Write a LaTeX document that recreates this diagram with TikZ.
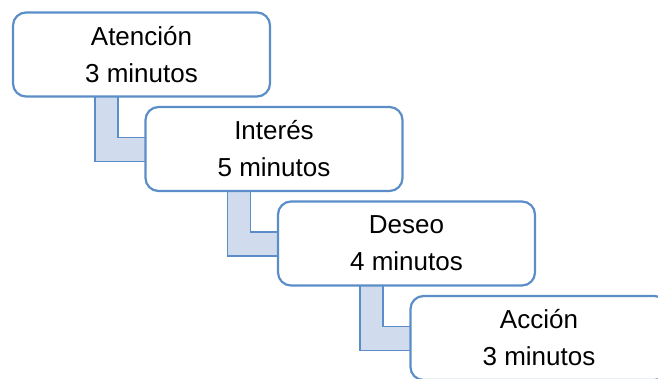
\documentclass[tikz,border=0pt]{standalone}
\usepackage{fontspec}
\setmainfont{Liberation Sans}
\usetikzlibrary{calc}
\definecolor{stepline}{HTML}{5B8EC8}
\definecolor{stepfill}{HTML}{D0DCEE}
\tikzset{
  stepbox/.style={draw=stepline, line width=2.2pt, fill=white, rounded corners=13pt,
    minimum width=257pt, minimum height=84pt, inner sep=0pt, align=center,
    font=\fontsize{26}{37}\selectfont},
  elbow/.style={draw=stepline, line width=1.8pt, fill=stepfill, line join=miter}
}
\begin{document}
\begin{tikzpicture}[x=1pt, y=-1pt]
\useasboundingbox (0,0) rectangle (658,378);
\clip (0,0) rectangle (658,378);
% centres of the four steps
\path
  (141.5,54.5) coordinate (c1)
  (274,149)    coordinate (c2)
  (406.5,243.5) coordinate (c3)
  (539,338)    coordinate (c4);
% elbow connectors between consecutive steps, drawn below the boxes
\foreach \i/\j in {1/2,2/3,3/4}{
  \draw[elbow]
    ($(c\i)+(-46.5,42)$) -- ($(c\i)+(-46.5,107)$) -- ($(c\j)+(-128.5,12.5)$)
    -- ($(c\j)+(-128.5,-11.5)$) -- ($(c\i)+(-23.5,83)$) -- ($(c\i)+(-23.5,42)$) -- cycle;
}
\node[stepbox] (s1) at (c1) {Atención\\3 minutos};
\node[stepbox] (s2) at (c2) {Interés\\5 minutos};
\node[stepbox] (s3) at (c3) {Deseo\\4 minutos};
\node[stepbox] (s4) at (c4) {Acción\\3 minutos};
\end{tikzpicture}
\end{document}
